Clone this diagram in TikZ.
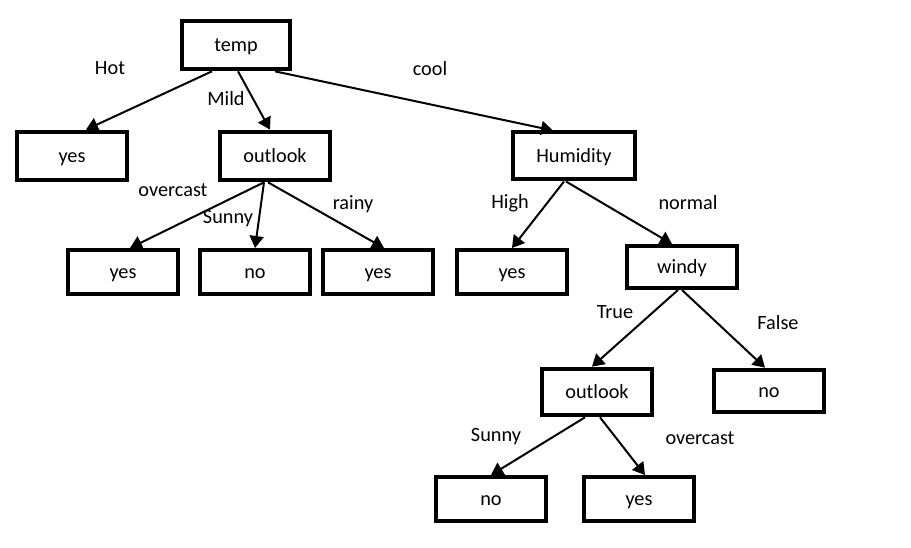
\documentclass[tikz,border=0pt]{standalone}
\usepackage{fontspec}
\setmainfont{Carlito}
\usepackage{tikz}
\usetikzlibrary{arrows.meta}

\begin{document}
\begin{tikzpicture}[
    x=0.75pt, y=-0.75pt,
    every node/.style={font=\fontsize{15.2}{18}\selectfont},
    box/.style={rectangle, draw=black, line width=3pt, fill=white,
    minimum width=82.5pt, minimum height=33pt, inner sep=2pt,
    text height=12.5pt, text depth=2.5pt},
    top/.style={minimum height=36.5pt},
    kant/.style={inner sep=1pt},
    edge/.style={line width=1.5pt, draw=black, -{Triangle[length=9pt,width=10.5pt]}}
]
\useasboundingbox (0,0) rectangle (911,548);

\node[box, top, minimum width=81pt] (temp) at (236,45) {temp};
\node[box, top] (yesA) at (72,156) {yes};
\node[box, top] (outlookA) at (275,156) {outlook};
\node[box, top, minimum width=91.5pt, minimum height=35.25pt] (humidity) at (574,156) {Humidity};

\node[box] (yesB) at (123,272) {yes};
\node[box] (noA) at (255,272) {no};
\node[box] (yesC) at (378,272) {yes};
\node[box] (yesD) at (512,272) {yes};
\node[box, minimum height=31.5pt] (windy) at (682,267) {windy};

\node[box, minimum height=35pt] (outlookB) at (597,392) {outlook};
\node[box, minimum height=32pt] (noB) at (769,391) {no};
\node[box] (noC) at (491,499) {no};
\node[box] (yesE) at (639,499) {yes};

\draw[edge] ([xshift=-18pt]temp.south) -- ([xshift=10.5pt]yesA.north);
\draw[edge] ([xshift=1.5pt]temp.south) -- ([xshift=-3.75pt]outlookA.north);
\draw[edge] ([xshift=29.25pt]temp.south) -- ([xshift=-15.75pt]humidity.north);

\draw[edge] ([xshift=-8.25pt]outlookA.south) -- ([xshift=5.25pt]yesB.north);
\draw[edge] ([xshift=-8.25pt]outlookA.south) -- (noA.north);
\draw[edge] ([xshift=-5.25pt]outlookA.south) -- ([xshift=4.5pt]yesC.north);

\draw[edge] ([xshift=-7.5pt]humidity.south) -- (yesD.north);
\draw[edge] ([xshift=-6pt]humidity.south) -- ([xshift=-7.5pt]windy.north);

\draw[edge] ([xshift=-3pt]windy.south) -- ([xshift=-3.75pt]outlookB.north);
\draw[edge] (windy.south) -- ([xshift=-3pt]noB.north);

\draw[edge] ([xshift=-9pt]outlookB.south) -- (noC.north);
\draw[edge] ([xshift=2.25pt]outlookB.south) -- ([xshift=4.5pt]yesE.north);

\node[kant] (hot) at (110,68) {Hot};
\node[kant] (mild) at (226,99) {Mild};
\node[kant] (cool) at (430,69) {cool};
\node[kant] (overcastA) at (173,190) {overcast};
\node[kant] (sunnyA) at (228,219) {Sunny};
\node[kant] (rainy) at (353,204) {rainy};
\node[kant] (high) at (510,203) {High};
\node[kant] (normal) at (688,203) {normal};
\node[kant] (true) at (615,312) {True};
\node[kant] (false) at (778,323) {False};
\node[kant] (sunnyB) at (496,437) {Sunny};
\node[kant] (overcastB) at (700,438) {overcast};
\end{tikzpicture}
\end{document}
